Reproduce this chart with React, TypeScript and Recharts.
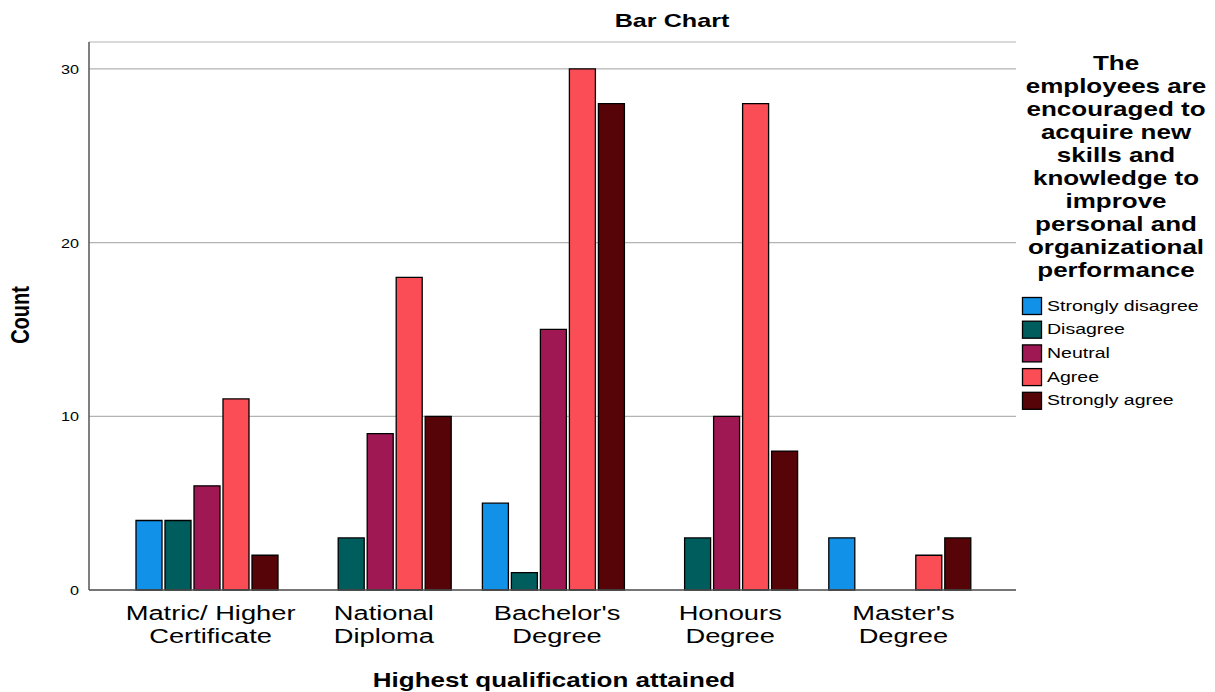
import { Bar, BarChart, CartesianGrid, XAxis, YAxis } from "recharts";

const categories = [
  "Matric/ Higher\nCertificate",
  "National\nDiploma",
  "Bachelor's\nDegree",
  "Honours\nDegree",
  "Master's\nDegree",
];

const stronglyDisagree = [4, 0, 5, 0, 3];
const disagree = [4, 3, 1, 3, 0];
const neutral = [6, 9, 15, 10, 0];
const agree = [11, 18, 30, 28, 2];
const stronglyAgree = [2, 10, 28, 8, 3];

const countTicks = [0, 10, 20, 30];

const legendTitle = [
  "The",
  "employees are",
  "encouraged to",
  "acquire new",
  "skills and",
  "knowledge to",
  "improve",
  "personal and",
  "organizational",
  "performance",
];

const series = [
  { key: "sd", name: "Strongly disagree", color: "#1192e8", values: stronglyDisagree },
  { key: "d", name: "Disagree", color: "#005d5d", values: disagree },
  { key: "n", name: "Neutral", color: "#9f1853", values: neutral },
  { key: "a", name: "Agree", color: "#fa4d56", values: agree },
  { key: "sa", name: "Strongly agree", color: "#570408", values: stronglyAgree },
];

const data = categories.map((category, i) => {
  const row: Record<string, string | number> = { category };
  series.forEach((s) => {
    row[s.key] = s.values[i];
  });
  return row;
});

const FONT = "'Liberation Sans', Arial, sans-serif";
const STRETCH = 1.3;

function CategoryTick({ x, y, payload }: any) {
  const lines = String(payload.value).split("\n");
  return (
    <g transform={`translate(${x + 4},${y})`}>
      {lines.map((line, i) => (
        <text
          key={i}
          transform={`translate(0,${29.5 + i * 23}) scale(${STRETCH},1)`}
          textAnchor="middle"
          fontFamily={FONT}
          fontSize={21}
          fill="#000"
        >
          {line}
        </text>
      ))}
    </g>
  );
}

function CountTick({ x, y, payload }: any) {
  return (
    <text
      transform={`translate(${x - 10},${y + 5}) scale(1.2,1)`}
      textAnchor="end"
      fontFamily={FONT}
      fontSize={13.5}
      fill="#000"
    >
      {payload.value}
    </text>
  );
}

function Overlay() {
  return (
    <svg
      width={1215}
      height={692}
      style={{ position: "absolute", left: 0, top: 0, pointerEvents: "none" }}
      fontFamily={FONT}
    >
      <text transform={`translate(672,27) scale(1.36,1)`} textAnchor="middle" fontSize={18.5} fontWeight="bold">
        Bar Chart
      </text>
      <text transform={`translate(29,315) scale(${STRETCH},1) rotate(-90)`} textAnchor="middle" fontSize={20} fontWeight="bold">
        Count
      </text>
      <text transform={`translate(554,687) scale(${STRETCH},1)`} textAnchor="middle" fontSize={20} fontWeight="bold">
        Highest qualification attained
      </text>
      {legendTitle.map((line, i) => (
        <text
          key={line}
          transform={`translate(1116,${69.5 + i * 23.1}) scale(${STRETCH},1)`}
          textAnchor="middle"
          fontSize={20}
          fontWeight="bold"
        >
          {line}
        </text>
      ))}
      {series.map((s, i) => (
        <g key={s.key} transform={`translate(1022,${297 + i * 23.7})`}>
          <rect x={0.5} y={0.5} width={19} height={17} fill={s.color} stroke="#000" strokeWidth={1.3} />
          <text transform={`translate(25,13.5) scale(${STRETCH},1)`} fontSize={15}>
            {s.name}
          </text>
        </g>
      ))}
    </svg>
  );
}

export default function App() {
  return (
    <div style={{ position: "relative", width: 1215, height: 692, background: "#fff" }}>
      <style>{"body{margin:0}"}</style>
      <BarChart
        width={1215}
        height={692}
        data={data}
        margin={{ top: 42, right: 199, left: 0, bottom: 0 }}
        barGap={3}
      >
        <CartesianGrid vertical={false} stroke="#b3b3b3" strokeWidth={1.2} />
        <XAxis
          dataKey="category"
          height={102}
          padding={{ left: 31, right: 30 }}
          tick={<CategoryTick />}
          tickLine={false}
          tickSize={0}
          tickMargin={0}
          interval={0}
          axisLine={{ stroke: "#555", strokeWidth: 1.5 }}
        />
        <YAxis
          width={89}
          domain={[0, 31.55]}
          ticks={countTicks}
          tick={<CountTick />}
          tickLine={false}
          tickSize={0}
          tickMargin={0}
          axisLine={{ stroke: "#555", strokeWidth: 1.5 }}
        />
        {series.map((s) => (
          <Bar
            key={s.key}
            dataKey={s.key}
            name={s.name}
            fill={s.color}
            stroke="#000"
            strokeWidth={1.3}
            barSize={26}
            isAnimationActive={false}
          />
        ))}
      </BarChart>
      <Overlay />
    </div>
  );
}
